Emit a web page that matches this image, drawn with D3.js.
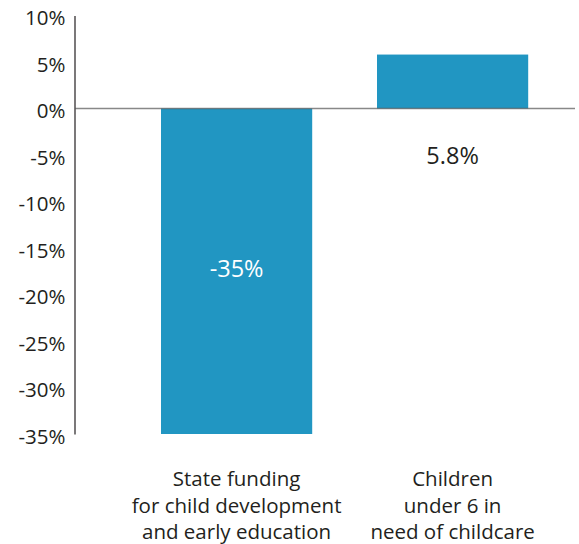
<!DOCTYPE html>
<html>
<head>
<meta charset="utf-8">
<script src="https://cdn.jsdelivr.net/npm/d3@7"></script>
<style>
  html, body { margin: 0; padding: 0; background: #fff; }
  svg { display: block; }
  text { font-family: "Open Sans", "Noto Sans", sans-serif; fill: #231f20; }
</style>
</head>
<body>
<svg id="chart" width="579" height="544"></svg>
<script>
// Percent change, by measure
const categories = [
  ["State funding", "for child development", "and early education"],
  ["Children", "under 6 in", "need of childcare"]
];
const values = [-35, 5.8];
const valueLabels = ["-35%", "5.8%"];
const yTicks = [10, 5, 0, -5, -10, -15, -20, -25, -30, -35];

const svg = d3.select("#chart");
const barColor = "#2196c2";

const y = d3.scaleLinear().domain([-35, 10]).range([434, 15.5]);
const x = d3.scaleBand()
  .domain(d3.range(values.length))
  .range([128.6, 560.6])
  .paddingInner(0.3)
  .paddingOuter(0.15);

// y axis: plain line with labels, no tick marks
const yAxis = d3.axisLeft(y)
  .tickValues(yTicks)
  .tickFormat(d => d + "%")
  .tickSize(0)
  .tickPadding(9);

const gy = svg.append("g")
  .attr("transform", "translate(74.5,0)")
  .call(yAxis);
gy.select(".domain").attr("stroke", "#231f20").attr("stroke-width", 1.2);
gy.selectAll(".tick text")
  .attr("font-size", 20.5)
  .attr("dy", "0.45em")
  .style("font-family", "'Open Sans', sans-serif")
  .attr("fill", "#231f20");

// bars
svg.append("g").selectAll("rect")
  .data(values)
  .join("rect")
  .attr("x", (d, i) => x(i))
  .attr("width", x.bandwidth())
  .attr("y", d => y(Math.max(0, d)))
  .attr("height", d => Math.abs(y(d) - y(0)))
  .attr("fill", barColor);

// zero line
svg.append("line")
  .attr("x1", 75).attr("x2", 575)
  .attr("y1", y(0)).attr("y2", y(0))
  .attr("stroke", "#555")
  .attr("stroke-opacity", 0.7)
  .attr("stroke-width", 1.6);

// value labels
svg.append("g").selectAll("text")
  .data(values)
  .join("text")
  .attr("x", (d, i) => x(i) + x.bandwidth() / 2)
  .attr("y", d => d < 0 ? (y(0) + y(d)) / 2 - 3 : y(0) + 47)
  .attr("dy", "0.36em")
  .attr("text-anchor", "middle")
  .attr("font-size", 23.5)
  .style("fill", d => d < 0 ? "#ffffff" : "#231f20")
  .text((d, i) => valueLabels[i]);

// category labels
const cat = svg.append("g").selectAll("text")
  .data(categories)
  .join("text")
  .attr("text-anchor", "middle")
  .attr("font-size", 20.5)
  .attr("x", (d, i) => x(i) + x.bandwidth() / 2)
  .attr("y", 479);
cat.selectAll("tspan")
  .data(d => d)
  .join("tspan")
  .attr("x", function () { return d3.select(this.parentNode).attr("x"); })
  .attr("dy", (d, j) => j === 0 ? "0.36em" : 26.5)
  .text(d => d);
</script>
</body>
</html>
